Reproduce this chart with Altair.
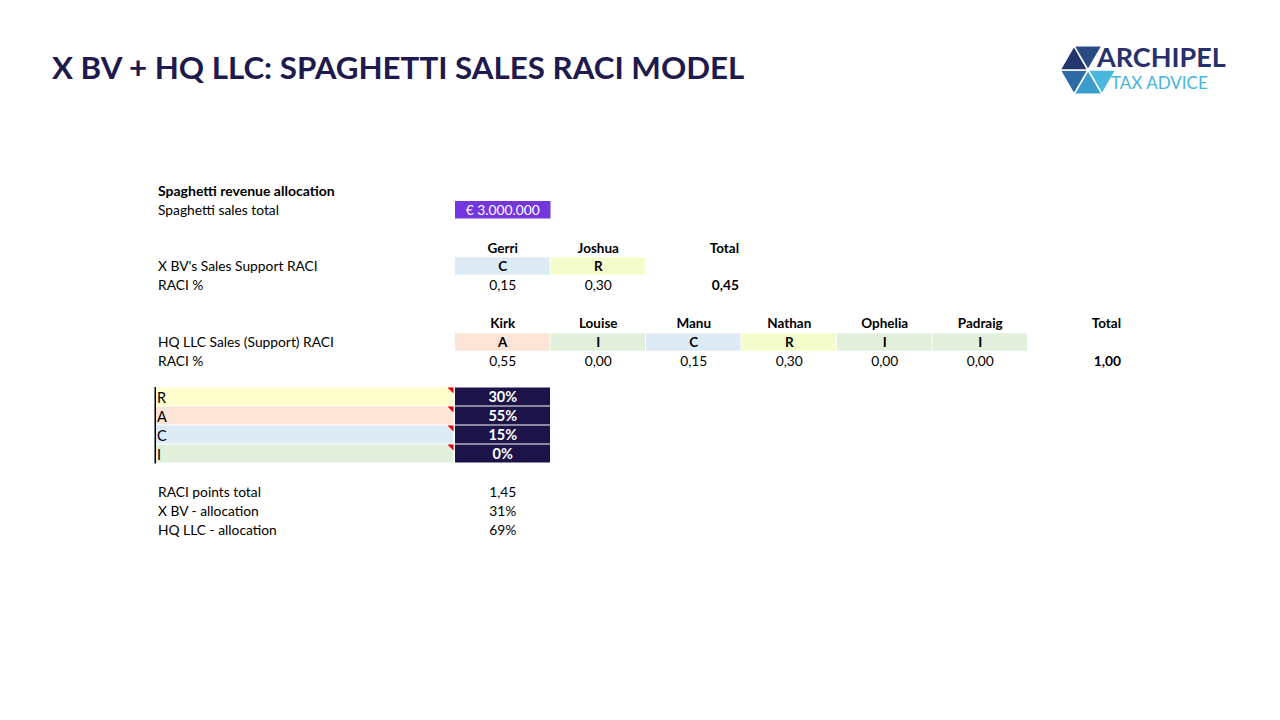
import altair as alt
import pandas as pd
import math

# ---------------- data ----------------
TITLE = "X BV + HQ LLC: SPAGHETTI SALES RACI MODEL"
LOGO_TOP = "ARCHIPEL"
LOGO_BOTTOM = "TAX ADVICE"

SECTION = "Spaghetti revenue allocation"
SALES_LABEL = "Spaghetti sales total"
SALES_VALUE = "€ 3.000.000"

TOTAL_HEADER = "Total"
PCT_LABEL = "RACI %"

XBV_LABEL = "X BV's Sales Support RACI"
XBV_PEOPLE = ["Gerri", "Joshua"]
XBV_ROLES = ["C", "R"]
XBV_PCT = ["0,15", "0,30"]
XBV_TOTAL = "0,45"

HQ_LABEL = "HQ LLC Sales (Support) RACI"
HQ_PEOPLE = ["Kirk", "Louise", "Manu", "Nathan", "Ophelia", "Padraig"]
HQ_ROLES = ["A", "I", "C", "R", "I", "I"]
HQ_PCT = ["0,55", "0,00", "0,15", "0,30", "0,00", "0,00"]
HQ_TOTAL = "1,00"

LEGEND_ROLES = ["R", "A", "C", "I"]
LEGEND_WEIGHTS = ["30%", "55%", "15%", "0%"]

SUMMARY_LABELS = ["RACI points total", "X BV - allocation", "HQ LLC - allocation"]
SUMMARY_VALUES = ["1,45", "31%", "69%"]

# ---------------- styles / layout ----------------
FONT = "Lato"
NAVY = "#1e1a4d"
DARK_CELL = "#1c1448"
PURPLE = "#7336df"
CELL_FILL = {"R": "#f4fccc", "A": "#fce4d6", "C": "#ddebf7", "I": "#e2efda"}
LEGEND_FILL = {"R": "#fefecd", "A": "#fce4d6", "C": "#ddebf7", "I": "#e2efda"}

BODY = 13.8
BOLD = 13.5
LABEL_X = 158
COL0 = 455
COLW = 95.5
CELL_H = 17.5
Y_SECTION, Y_SALES = 191, 210
Y_XBV_HEAD, Y_XBV_ROLE, Y_XBV_PCT = 248, 266, 285
Y_HQ_HEAD, Y_HQ_ROLE, Y_HQ_PCT = 323, 342, 361
LEG_Y0, LEG_H = 387.5, 19
Y_SUM0, SUM_STEP = 492, 19
XBV_TOTAL_X = 739
HQ_TOTAL_X = 1121

xs = alt.Scale(domain=[8, 1272], range=[0, 1264])
ys = alt.Scale(domain=[8, 712], range=[0, 704])


def col_center(i):
    return COL0 + COLW * i + COLW / 2


# ---------------- rect cells ----------------
rects = []
rects.append(dict(x=COL0, x2=COL0 + COLW, y=Y_SALES - 9, y2=Y_SALES + 8.5, c=PURPLE))
for i, r in enumerate(XBV_ROLES):
    rects.append(dict(x=COL0 + COLW * i, x2=COL0 + COLW * (i + 1) - 1,
                      y=Y_XBV_ROLE - CELL_H / 2, y2=Y_XBV_ROLE + CELL_H / 2, c=CELL_FILL[r]))
for i, r in enumerate(HQ_ROLES):
    rects.append(dict(x=COL0 + COLW * i, x2=COL0 + COLW * (i + 1) - 1,
                      y=Y_HQ_ROLE - CELL_H / 2, y2=Y_HQ_ROLE + CELL_H / 2, c=CELL_FILL[r]))
for i, r in enumerate(LEGEND_ROLES):
    y0 = LEG_Y0 + LEG_H * i
    rects.append(dict(x=156, x2=453.5, y=y0, y2=y0 + LEG_H - 1, c=LEGEND_FILL[r]))
    rects.append(dict(x=455, x2=550, y=y0, y2=y0 + LEG_H - 1, c=DARK_CELL))
# left border of the legend block
rects.append(dict(x=154.5, x2=156, y=LEG_Y0 - 0.5, y2=LEG_Y0 + LEG_H * 4, c="#000000"))
rect_df = pd.DataFrame(rects)

rect_layer = alt.Chart(rect_df).mark_rect().encode(
    x=alt.X("x:Q", scale=xs, axis=None),
    x2="x2:Q",
    y=alt.Y("y:Q", scale=ys, axis=None),
    y2="y2:Q",
    color=alt.Color("c:N", scale=None),
)

# red comment markers
marks_df = pd.DataFrame({"x": [450.5] * 4,
                         "y": [LEG_Y0 + 3 + LEG_H * i for i in range(4)]})
marker_layer = alt.Chart(marks_df).mark_point(
    shape="M-1,-1L1,-1L1,1Z", filled=True, color="#e00000", opacity=1, size=36, strokeWidth=0
).encode(x=alt.X("x:Q", scale=xs, axis=None), y=alt.Y("y:Q", scale=ys, axis=None))

# ---------------- logo ----------------
hex_pts = [(math.cos(math.radians(60 * k)), math.sin(math.radians(60 * k))) for k in range(6)]
tri_colors = ["#48b8dc", "#3a9ccd", "#2e6aa4", "#24356d", "#2a4a84"]
logo_rows = []
for k in range(5):
    a = hex_pts[k]
    b = hex_pts[(k + 1) % 6]
    path = f"M0,0L{a[0]:.3f},{a[1]:.3f}L{b[0]:.3f},{b[1]:.3f}Z"
    logo_rows.append(dict(x=1088, y=70, shape=path, c=tri_colors[k]))
logo_df = pd.DataFrame(logo_rows)
logo_layer = alt.Chart(logo_df).mark_point(filled=True, opacity=1, size=3136,
                                           stroke="white", strokeWidth=1.5).encode(
    x=alt.X("x:Q", scale=xs, axis=None),
    y=alt.Y("y:Q", scale=ys, axis=None),
    shape=alt.Shape("shape:N", scale=None),
    fill=alt.Fill("c:N", scale=None),
)


# ---------------- text ----------------
def text_layer(rows, align="left", weight="normal", baseline="middle"):
    df = pd.DataFrame(rows)
    return alt.Chart(df).mark_text(
        align=align, baseline=baseline, font=FONT, fontWeight=weight, dy=1
    ).encode(
        x=alt.X("x:Q", scale=xs, axis=None),
        y=alt.Y("y:Q", scale=ys, axis=None),
        text="t:N",
        color=alt.Color("c:N", scale=None),
        size=alt.Size("s:Q", scale=None),
    )


left_normal = [
    dict(x=LABEL_X, y=Y_SALES, t=SALES_LABEL, c="#000000", s=BODY),
    dict(x=LABEL_X, y=Y_XBV_ROLE, t=XBV_LABEL, c="#000000", s=BODY),
    dict(x=LABEL_X, y=Y_XBV_PCT, t=PCT_LABEL, c="#000000", s=BODY),
    dict(x=LABEL_X, y=Y_HQ_ROLE, t=HQ_LABEL, c="#000000", s=BODY),
    dict(x=LABEL_X, y=Y_HQ_PCT, t=PCT_LABEL, c="#000000", s=BODY),
]
for i, lab in enumerate(SUMMARY_LABELS):
    left_normal.append(dict(x=LABEL_X, y=Y_SUM0 + SUM_STEP * i, t=lab, c="#000000", s=BODY))
for i, r in enumerate(LEGEND_ROLES):
    left_normal.append(dict(x=157, y=LEG_Y0 + LEG_H * i + LEG_H / 2 + 1, t=r, c="#000000", s=14.5))
left_normal.append(dict(x=1111, y=83, t=LOGO_BOTTOM, c="#45b6da", s=17))

left_bold = [
    dict(x=LABEL_X, y=Y_SECTION, t=SECTION, c="#000000", s=14),
    dict(x=52, y=69, t=TITLE, c=NAVY, s=31.3),
    dict(x=1097, y=58, t=LOGO_TOP, c="#27306b", s=27),
]

center_normal = [dict(x=col_center(0), y=Y_SALES, t=SALES_VALUE, c="#ffffff", s=BODY)]
for i, v in enumerate(XBV_PCT):
    center_normal.append(dict(x=col_center(i), y=Y_XBV_PCT, t=v, c="#000000", s=BODY))
for i, v in enumerate(HQ_PCT):
    center_normal.append(dict(x=col_center(i), y=Y_HQ_PCT, t=v, c="#000000", s=BODY))
for i, v in enumerate(SUMMARY_VALUES):
    center_normal.append(dict(x=col_center(0), y=Y_SUM0 + SUM_STEP * i, t=v, c="#000000", s=BODY))

center_bold = []
for i, p in enumerate(XBV_PEOPLE):
    center_bold.append(dict(x=col_center(i), y=Y_XBV_HEAD, t=p, c="#000000", s=BOLD))
for i, r in enumerate(XBV_ROLES):
    center_bold.append(dict(x=col_center(i), y=Y_XBV_ROLE, t=r, c="#000000", s=BOLD))
for i, p in enumerate(HQ_PEOPLE):
    center_bold.append(dict(x=col_center(i), y=Y_HQ_HEAD, t=p, c="#000000", s=BOLD))
for i, r in enumerate(HQ_ROLES):
    center_bold.append(dict(x=col_center(i), y=Y_HQ_ROLE, t=r, c="#000000", s=BOLD))
for i, w in enumerate(LEGEND_WEIGHTS):
    center_bold.append(dict(x=col_center(0), y=LEG_Y0 + LEG_H * i + LEG_H / 2, t=w, c="#ffffff", s=14.5))

right_bold = [
    dict(x=XBV_TOTAL_X, y=Y_XBV_HEAD, t=TOTAL_HEADER, c="#000000", s=BOLD),
    dict(x=XBV_TOTAL_X, y=Y_XBV_PCT, t=XBV_TOTAL, c="#000000", s=BODY),
    dict(x=HQ_TOTAL_X, y=Y_HQ_HEAD, t=TOTAL_HEADER, c="#000000", s=BOLD),
    dict(x=HQ_TOTAL_X, y=Y_HQ_PCT, t=HQ_TOTAL, c="#000000", s=BODY),
]

chart = alt.layer(
    rect_layer,
    marker_layer,
    logo_layer,
    text_layer(left_normal, "left", "normal"),
    text_layer(left_bold, "left", "bold"),
    text_layer(center_normal, "center", "normal"),
    text_layer(center_bold, "center", "bold"),
    text_layer(right_bold, "right", "bold"),
).properties(
    width=1264, height=704, autosize=alt.AutoSizeParams(type="none"), padding=0,
    background="white",
).configure_view(stroke=None)

chart.save("out.html", embed_options={"renderer": "svg", "actions": False})
